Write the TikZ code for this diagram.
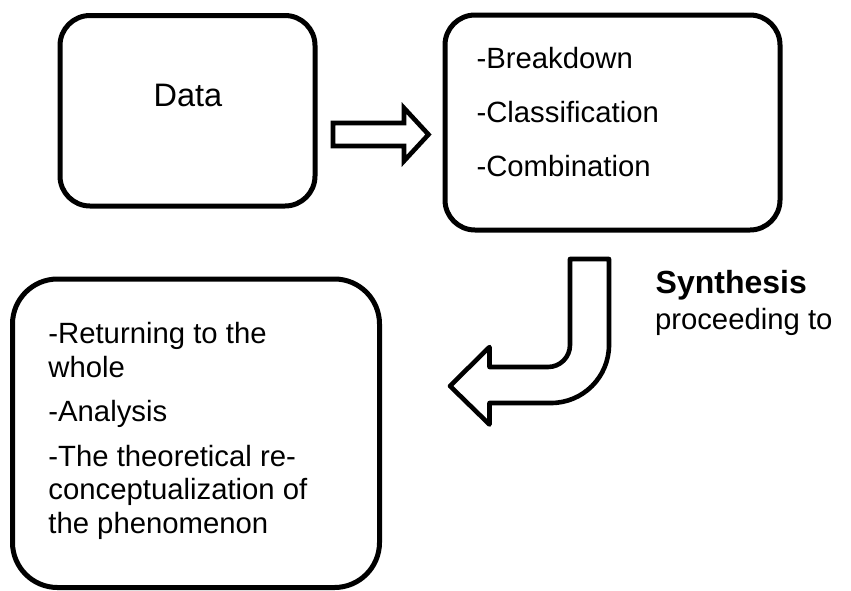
\documentclass[tikz,border=0pt]{standalone}
\usepackage{fontspec}
\setmainfont{Liberation Sans}
\begin{document}
\begin{tikzpicture}[x=1pt,y=-1pt,
  box/.style={draw=black,line width=5pt,fill=white,inner sep=0pt},
  txt/.style={inner sep=0pt,outer sep=0pt,anchor=base west,font=\fontsize{29.3}{33.7}\selectfont},
  blockarrow/.style={draw=black,line width=4.6pt,fill=white}]
\useasboundingbox (0,0) rectangle (851,590);
% boxes
\node[box,rounded corners=30pt,minimum width=255pt,minimum height=190.5pt] (data) at (187.5,110.75) {};
\node[box,rounded corners=30pt,minimum width=335pt,minimum height=215pt] (ops) at (612.5,122.5) {};
\node[box,rounded corners=45pt,minimum width=367pt,minimum height=308.5pt] (whole) at (196,433.25) {};
% texts
\node[inner sep=0pt,anchor=base,font=\fontsize{32.5}{37}\selectfont] (datatxt) at (188,106.7) {Data};
\node[txt] (b1) at (476.5,68.5) {-Breakdown};
\node[txt] (b2) at (476.5,122.5) {-Classification};
\node[txt] (b3) at (476.5,176.5) {-Combination};
\node[txt] (w1) at (48.4,343.9) {-Returning to the};
\node[txt] (w2) at (48.4,377.3) {whole};
\node[txt] (w3) at (48.4,421) {-Analysis};
\node[txt] (w4) at (48.4,466) {-The theoretical re-};
\node[txt] (w5) at (48.4,499.7) {conceptualization of};
\node[txt] (w6) at (48.4,533.4) {the phenomenon};
\node[inner sep=0pt,anchor=base west,font=\fontsize{32}{37}\selectfont\bfseries] (syn) at (655.5,293) {Synthesis};
\node[txt] (proc) at (655,329) {proceeding to};
% right block arrow
\draw[blockarrow] (333,123) -- (404,123) -- (404,108) -- (428.5,134.5) -- (404,161) -- (404,146) -- (333,146) -- cycle;
% bent block arrow
\draw[blockarrow,line join=round]
  (570,259) -- (609,259) -- (609,345)
  arc[start angle=0,end angle=90,x radius=58pt,y radius=-58pt]
  -- (489.5,403) -- (489.5,424.5) -- (450,386) -- (489.5,347) -- (489.5,367)
  -- (548,367)
  arc[start angle=90,end angle=0,x radius=22pt,y radius=-22pt]
  -- cycle;
\end{tikzpicture}
\end{document}
